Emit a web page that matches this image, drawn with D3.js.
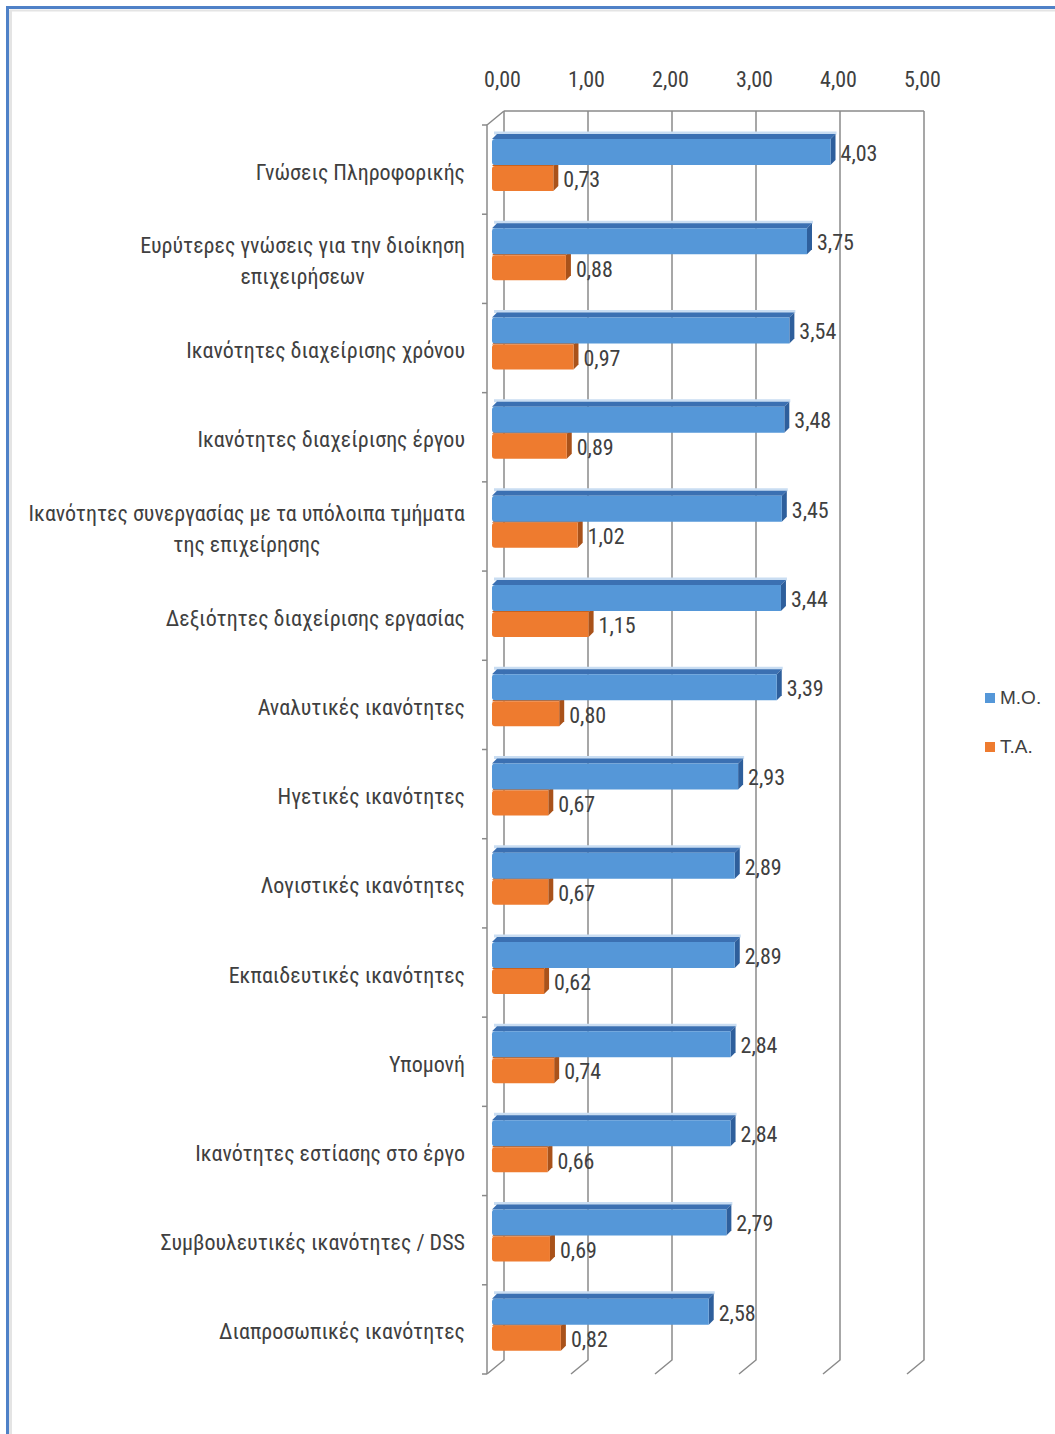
<!DOCTYPE html>
<html>
<head>
<meta charset="utf-8">
<script src="https://cdn.jsdelivr.net/npm/d3@7"></script>
<style>
  html, body { margin: 0; padding: 0; background: #ffffff; }
  svg { display: block; }
  .narrow { font-family: "Liberation Sans Narrow", "Roboto Condensed", "Open Sans", sans-serif; }
</style>
</head>
<body>
<script>
// Skills ratings: mean (M.O.) and standard deviation (T.A.) per skill
const categories = [
  "Γνώσεις Πληροφορικής",
  "Ευρύτερες γνώσεις για την διοίκηση\nεπιχειρήσεων",
  "Ικανότητες διαχείρισης χρόνου",
  "Ικανότητες διαχείρισης έργου",
  "Ικανότητες συνεργασίας με τα υπόλοιπα τμήματα\nτης επιχείρησης",
  "Δεξιότητες διαχείρισης εργασίας",
  "Αναλυτικές ικανότητες",
  "Ηγετικές ικανότητες",
  "Λογιστικές ικανότητες",
  "Εκπαιδευτικές ικανότητες",
  "Υπομονή",
  "Ικανότητες εστίασης στο έργο",
  "Συμβουλευτικές ικανότητες / DSS",
  "Διαπροσωπικές ικανότητες"
];
const meanValues = [4.03, 3.75, 3.54, 3.48, 3.45, 3.44, 3.39, 2.93, 2.89, 2.89, 2.84, 2.84, 2.79, 2.58];
const sdValues   = [0.73, 0.88, 0.97, 0.89, 1.02, 1.15, 0.80, 0.67, 0.67, 0.62, 0.74, 0.66, 0.69, 0.82];
const tickValues = [0, 1, 2, 3, 4, 5];
const seriesNames = ["M.O.", "T.A."];

const W = 1055, H = 1434;
const fmt = v => d3.format(".2f")(v).replace(".", ",");

const svg = d3.select("body").append("svg")
  .attr("width", W).attr("height", H);

// outer frame (blue rule on top and left, faint shadow inside)
svg.append("line").attr("x1", 10.5).attr("x2", 10.5).attr("y1", 10).attr("y2", H)
  .attr("stroke", "#e4e4e4").attr("stroke-width", 3);
svg.append("line").attr("x1", 10).attr("x2", W).attr("y1", 10.5).attr("y2", 10.5)
  .attr("stroke", "#e4e4e4").attr("stroke-width", 2);
svg.append("line").attr("x1", 7.5).attr("x2", 7.5).attr("y1", 6).attr("y2", H)
  .attr("stroke", "#4f81c7").attr("stroke-width", 3);
svg.append("line").attr("x1", 6).attr("x2", W).attr("y1", 7.5).attr("y2", 7.5)
  .attr("stroke", "#4f81c7").attr("stroke-width", 3);

// plot geometry: back wall + floor depth offset
const backTop = 111, backBottom = 1360;
const depthX = -17, depthY = 14;
const x = d3.scaleLinear().domain([0, 5]).range([504, 924]);
const y = d3.scaleBand().domain(categories)
  .range([backTop + depthY, backBottom + depthY]);

const grid = svg.append("g").attr("stroke", "#8a8a8a").attr("stroke-width", 1.5).attr("fill", "none");
// vertical gridlines on back wall, with floor diagonals
tickValues.forEach(t => {
  grid.append("path").attr("d",
    `M${x(t)},${backTop} L${x(t)},${backBottom} L${x(t) + depthX},${backBottom + depthY}`);
});
// top edge of back wall
grid.append("line").attr("x1", x(0)).attr("x2", x(5)).attr("y1", backTop).attr("y2", backTop);
// side wall: front edge and top diagonal
grid.append("path").attr("d",
  `M${x(0)},${backTop} L${x(0) + depthX},${backTop + depthY} L${x(0) + depthX},${backBottom + depthY}`);
// category tick marks on the side wall
categories.forEach(c => {
  const yy = y(c);
  grid.append("line").attr("x1", x(0) + depthX - 5).attr("x2", x(0) + depthX)
    .attr("y1", yy).attr("y2", yy);
});
grid.append("line").attr("x1", x(0) + depthX - 5).attr("x2", x(0) + depthX)
  .attr("y1", backBottom + depthY).attr("y2", backBottom + depthY);

// top value axis
const axis = d3.axisTop(x).tickValues(tickValues).tickFormat(fmt).tickSize(0);
const axisG = svg.append("g").attr("transform", `translate(-2,${backTop - 21})`).call(axis);
axisG.select(".domain").remove();
axisG.selectAll("text").attr("class", "narrow").attr("font-size", 22).attr("fill", "#404040");

// bars
const barOffset = -12;   // bars sit mid-depth
const bd = 5;            // bar thickness in the depth direction
const bars = [
  { vals: sdValues, top: 41, h: 25, front: "#ee7b2f", topFace: "#c8621e", side: "#a9521a", dy: 3 },
  { vals: meanValues, top: 14, h: 26, front: "#5597d8", topFace: "#3b70b2", side: "#2e5f9c", dy: 3 }
];

bars.forEach((s, si) => {
  const g = svg.append("g");
  categories.forEach((c, i) => {
    const v = s.vals[i];
    const x0 = x(0) + barOffset;
    const x1 = x(v) + barOffset;
    const t = y(c) + s.top, b = t + s.h;
    if (si === 1) {
      g.append("path").attr("d", `M${x0 + 2},${t - bd - 1} L${x1 + bd + 1},${t - bd - 1}`)
        .attr("stroke", "#c9ddf2").attr("stroke-width", 3).attr("fill", "none");
    }
    // top face
    g.append("path").attr("d",
      `M${x0},${t} L${x0 + bd},${t - bd} L${x1 + bd},${t - bd} L${x1},${t} Z`)
      .attr("fill", s.topFace);
    // side face
    g.append("path").attr("d",
      `M${x1},${t} L${x1 + bd},${t - bd} L${x1 + bd},${b - bd} L${x1},${b} Z`)
      .attr("fill", s.side);
    // front face
    g.append("path").attr("d",
      `M${x0 + 3},${t} L${x1},${t} L${x1},${b} L${x0 + 3},${b} Q${x0},${b} ${x0},${b - 3} L${x0},${t + 3} Q${x0},${t} ${x0 + 3},${t} Z`)
      .attr("fill", s.front);
    // value label
    g.append("text").attr("class", "narrow")
      .attr("x", x1 + 10).attr("y", (t + b) / 2 + s.dy)
      .attr("dominant-baseline", "middle")
      .attr("font-size", 22).attr("fill", "#404040")
      .text(fmt(v));
  });
});

// category labels, right aligned, multi-line blocks centred
const labelG = svg.append("g");
categories.forEach(c => {
  const lines = c.split("\n");
  const cy = y(c) + y.bandwidth() / 2 + 4;
  const lh = 31;
  const txt = labelG.append("text").attr("class", "narrow")
    .attr("font-size", 22).attr("fill", "#404040")
    .attr("dominant-baseline", "middle");
  lines.forEach((ln, k) => {
    txt.append("tspan").attr("x", 465).attr("text-anchor", "end")
      .attr("y", cy + (k - (lines.length - 1) / 2) * lh).text(ln);
  });
  if (lines.length > 1) {
    // centre the second line under the first
    const nodes = txt.selectAll("tspan").nodes();
    const w0 = nodes[0].getComputedTextLength();
    nodes.forEach(n => {
      const w = n.getComputedTextLength();
      d3.select(n).attr("x", 465 - (w0 - w) / 2);
    });
  }
});

// legend
const legend = svg.append("g");
const legendColors = ["#5597d8", "#ee7b2f"];
seriesNames.forEach((name, i) => {
  const ly = 698 + i * 49;
  legend.append("rect").attr("x", 985).attr("y", ly - 5).attr("width", 10).attr("height", 10)
    .attr("fill", legendColors[i]);
  legend.append("text").attr("x", 1000).attr("y", ly + 1)
    .attr("dominant-baseline", "middle")
    .attr("font-family", "'Liberation Sans', Arial, sans-serif")
    .attr("font-size", 19).attr("fill", "#404040").text(name);
});
</script>
</body>
</html>
